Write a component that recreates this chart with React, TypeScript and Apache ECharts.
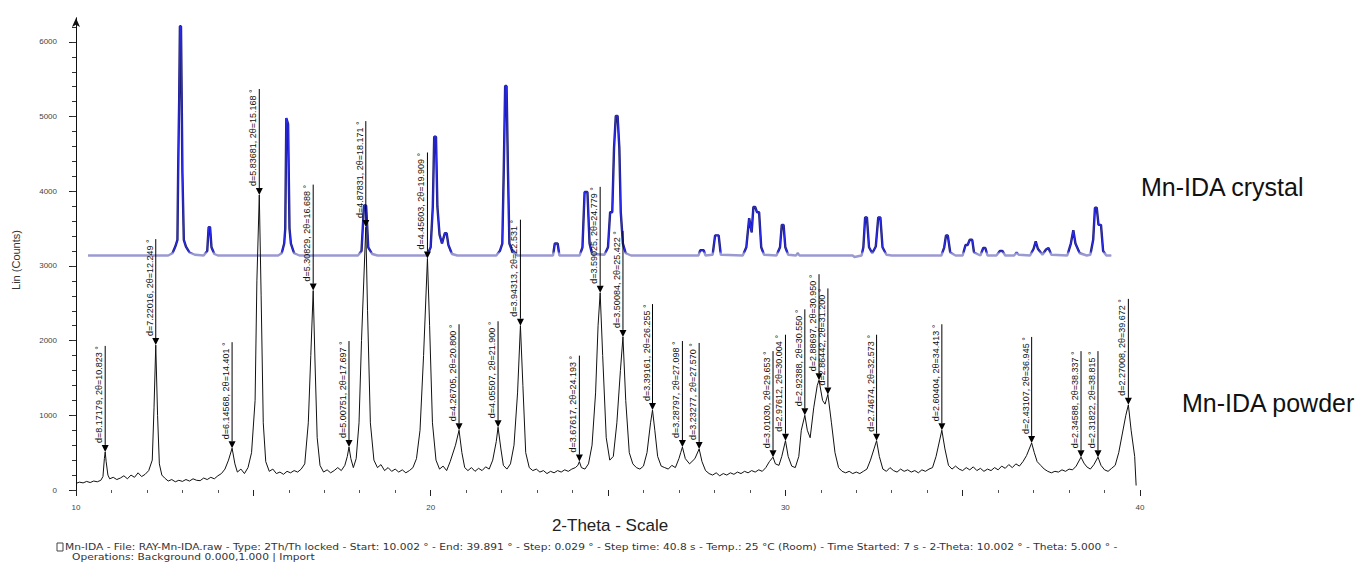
import React, { useEffect, useRef } from 'react';
import * as echarts from 'echarts';

const yTickValues = [0, 1000, 2000, 3000, 4000, 5000, 6000];
const xLabelValues = [10, 20, 30, 40];
const yAxisTitle = 'Lin (Counts)';
const xAxisTitle = '2-Theta - Scale';
const seriesNames = ['Mn-IDA crystal', 'Mn-IDA powder'];
const footerLines = [
  'Mn-IDA - File: RAY-Mn-IDA.raw - Type: 2Th/Th locked - Start: 10.002 ° - End: 39.891 ° - Step: 0.029 ° - Step time: 40.8 s - Temp.: 25 °C (Room) - Time Started: 7 s - 2-Theta: 10.002 ° - Theta: 5.000 ° -',
  'Operations: Background 0.000,1.000 | Import',
];

// powder pattern [2θ, counts]
const powder: [number, number][] = [
  [10.0, 90], [10.1, 105], [10.2, 95], [10.3, 115], [10.4, 100], [10.5, 120], [10.6, 110], [10.7, 130],
  [10.76, 180], [10.8, 420], [10.823, 510], [10.85, 380], [10.9, 200], [10.95, 150],
  [11.05, 170], [11.15, 140], [11.25, 160], [11.35, 190], [11.45, 150], [11.55, 200], [11.65, 170], [11.75, 230], [11.85, 180], [11.95, 210], [12.05, 260],
  [12.15, 400], [12.2, 1100], [12.249, 1940], [12.3, 1000], [12.35, 350], [12.42, 200],
  [12.5, 160], [12.6, 120], [12.7, 140], [12.8, 110], [12.9, 130], [13.0, 115], [13.1, 140], [13.2, 120], [13.3, 150], [13.4, 130], [13.5, 125], [13.6, 160], [13.7, 140], [13.8, 170], [13.9, 150], [14.0, 190], [14.1, 220], [14.2, 280],
  [14.3, 400], [14.401, 560], [14.48, 350], [14.55, 240], [14.65, 280], [14.75, 220], [14.85, 300], [14.95, 500],
  [15.05, 1200], [15.1, 2800], [15.168, 3950], [15.22, 2600], [15.28, 900], [15.35, 380], [15.45, 250], [15.55, 280], [15.65, 220], [15.75, 240], [15.85, 210], [15.95, 250], [16.05, 230], [16.15, 260], [16.25, 240], [16.35, 280], [16.45, 350], [16.55, 900],
  [16.62, 1800], [16.688, 2670], [16.74, 1700], [16.8, 700], [16.88, 330], [16.98, 240], [17.08, 270], [17.18, 230], [17.28, 260], [17.38, 300], [17.48, 260], [17.58, 330],
  [17.65, 450], [17.697, 575], [17.75, 420], [17.82, 300], [17.9, 420], [17.98, 900],
  [18.05, 2000], [18.171, 3520], [18.22, 2400], [18.3, 900], [18.4, 400], [18.5, 300], [18.6, 340], [18.7, 260], [18.8, 300], [18.9, 250], [19.0, 280], [19.1, 240], [19.2, 270], [19.3, 230], [19.4, 260], [19.5, 300], [19.6, 420], [19.7, 800],
  [19.8, 1800], [19.909, 3100], [19.97, 2200], [20.05, 900], [20.15, 400], [20.25, 280], [20.35, 320], [20.45, 260], [20.55, 380],
  [20.7, 600], [20.8, 800], [20.88, 500], [20.96, 300], [21.05, 260], [21.15, 300], [21.25, 250], [21.35, 290], [21.45, 260], [21.55, 310], [21.65, 280], [21.75, 400],
  [21.85, 650], [21.9, 840], [21.98, 550], [22.05, 330], [22.15, 280], [22.25, 350], [22.35, 600],
  [22.45, 1300], [22.531, 2200], [22.6, 1400], [22.68, 500], [22.78, 300], [22.88, 260], [22.98, 280], [23.08, 240], [23.18, 260], [23.28, 220], [23.38, 250], [23.48, 230], [23.58, 260], [23.68, 240], [23.78, 270], [23.88, 250], [23.98, 280], [24.08, 300],
  [24.15, 330], [24.193, 380], [24.25, 300], [24.35, 280], [24.45, 350], [24.55, 600],
  [24.65, 1300], [24.72, 2200], [24.779, 2640], [24.85, 1800], [24.95, 700], [25.05, 400], [25.15, 450], [25.25, 900],
  [25.35, 1600], [25.422, 2050], [25.5, 1200], [25.6, 500], [25.7, 350], [25.8, 300], [25.9, 280], [26.0, 320], [26.1, 500],
  [26.2, 900], [26.255, 1070], [26.32, 800], [26.4, 450], [26.5, 320], [26.6, 300], [26.7, 280], [26.8, 330], [26.9, 300], [27.0, 420],
  [27.05, 500], [27.098, 575], [27.18, 420], [27.3, 350], [27.45, 420], [27.57, 550], [27.65, 380], [27.75, 260], [27.85, 220], [27.95, 200], [28.05, 230], [28.15, 190], [28.25, 220], [28.35, 200], [28.45, 230], [28.55, 210], [28.65, 240], [28.75, 220], [28.85, 250], [28.95, 230], [29.05, 260], [29.15, 240], [29.25, 270], [29.35, 250], [29.45, 300], [29.55, 380],
  [29.653, 440], [29.72, 350], [29.82, 330], [29.9, 450],
  [30.004, 660], [30.08, 450], [30.18, 320], [30.28, 300], [30.38, 450], [30.45, 800],
  [30.55, 1000], [30.62, 800], [30.7, 700], [30.8, 1100], [30.9, 1400], [30.95, 1470], [31.05, 1200], [31.12, 1150], [31.2, 1280], [31.3, 900], [31.4, 500], [31.5, 300], [31.6, 250], [31.7, 230], [31.8, 250], [31.9, 220], [32.0, 240], [32.1, 220], [32.2, 250], [32.3, 280], [32.4, 400],
  [32.5, 550], [32.573, 660], [32.65, 450], [32.75, 280], [32.85, 250], [32.95, 300], [33.05, 260], [33.15, 240], [33.25, 280], [33.35, 250], [33.45, 270], [33.55, 240], [33.65, 260], [33.75, 230], [33.85, 270], [33.95, 250], [34.05, 280], [34.15, 300], [34.25, 450],
  [34.413, 800], [34.5, 550], [34.6, 330], [34.7, 280], [34.8, 320], [34.9, 280], [35.0, 260], [35.1, 300], [35.2, 270], [35.3, 310], [35.4, 260], [35.5, 290], [35.6, 250], [35.7, 280], [35.8, 260], [35.9, 300], [36.0, 270], [36.1, 320], [36.2, 290], [36.3, 340], [36.4, 300], [36.5, 350], [36.6, 320], [36.7, 380], [36.8, 460],
  [36.945, 630], [37.02, 500], [37.1, 380], [37.2, 330], [37.3, 280], [37.4, 250], [37.5, 230], [37.6, 250], [37.7, 240], [37.8, 270], [37.9, 250], [38.0, 280], [38.1, 270], [38.2, 320],
  [38.337, 440], [38.42, 360], [38.5, 310], [38.6, 280], [38.7, 340], [38.815, 440], [38.9, 330], [39.0, 270], [39.1, 250], [39.2, 290], [39.3, 330], [39.4, 500], [39.5, 750], [39.6, 1000],
  [39.672, 1140], [39.75, 800], [39.85, 450], [39.891, 60],
];

// calculated crystal pattern [2θ, counts]
const crystal: [number, number][] = [
  [10.34, 3140], [12.6, 3140], [12.72, 3170], [12.8, 3260], [12.86, 3350], [12.88, 4260], [12.91, 5260], [12.93, 6210], [12.96, 6210], [12.98, 5260], [13.0, 4260], [13.04, 3350], [13.1, 3260], [13.2, 3180], [13.35, 3150], [13.6, 3140], [13.7, 3200], [13.74, 3520], [13.78, 3520], [13.82, 3250], [13.9, 3160], [14.0, 3140],
  [15.7, 3140], [15.8, 3170], [15.87, 3300], [15.9, 3500], [15.93, 4980], [15.98, 4900], [16.02, 3500], [16.06, 3300], [16.15, 3170], [16.3, 3140],
  [17.95, 3140], [18.05, 3200], [18.12, 3810], [18.18, 3810], [18.24, 3250], [18.35, 3160], [18.5, 3140],
  [19.9, 3140], [20.0, 3250], [20.06, 3790], [20.1, 4730], [20.15, 4730], [20.19, 3790], [20.25, 3420], [20.32, 3300], [20.4, 3440], [20.45, 3440], [20.5, 3280], [20.6, 3160], [20.75, 3140],
  [21.85, 3140], [21.95, 3200], [22.02, 3300], [22.06, 4260], [22.1, 5410], [22.14, 5410], [22.18, 4260], [22.22, 3300], [22.3, 3200], [22.45, 3140],
  [23.45, 3140], [23.5, 3300], [23.58, 3300], [23.63, 3140],
  [24.2, 3140], [24.28, 3250], [24.34, 3990], [24.42, 3990], [24.48, 3300], [24.55, 3160],
  [24.9, 3150], [25.0, 3250], [25.06, 3720], [25.12, 3720], [25.17, 4580], [25.22, 5010], [25.27, 5010], [25.32, 4580], [25.36, 3720], [25.42, 3300], [25.5, 3170], [25.65, 3140],
  [27.55, 3140], [27.6, 3210], [27.7, 3210], [27.75, 3140],
  [27.95, 3150], [28.02, 3410], [28.12, 3410], [28.18, 3150],
  [28.8, 3140], [28.9, 3250], [28.98, 3640], [29.05, 3450], [29.1, 3790], [29.15, 3790], [29.2, 3720], [29.26, 3720], [29.32, 3250], [29.4, 3150],
  [29.75, 3140], [29.85, 3250], [29.9, 3550], [29.95, 3550], [30.0, 3250], [30.08, 3150],
  [30.3, 3140], [30.35, 3170], [30.4, 3140],
  [31.9, 3140], [31.95, 3120], [32.05, 3130], [32.15, 3140], [32.2, 3250], [32.25, 3650], [32.3, 3650], [32.36, 3250], [32.45, 3170], [32.55, 3260], [32.62, 3650], [32.68, 3650], [32.74, 3250], [32.85, 3150], [33.0, 3140],
  [34.4, 3140], [34.48, 3250], [34.53, 3410], [34.58, 3410], [34.65, 3180], [34.8, 3140],
  [35.0, 3140], [35.08, 3280], [35.14, 3280], [35.2, 3350], [35.27, 3350], [35.32, 3180], [35.5, 3140], [35.58, 3240], [35.64, 3240], [35.7, 3140],
  [35.95, 3140], [36.05, 3200], [36.12, 3200], [36.2, 3140], [36.45, 3140], [36.52, 3180], [36.58, 3150],
  [36.9, 3140], [37.0, 3230], [37.06, 3330], [37.12, 3230], [37.25, 3150], [37.35, 3220], [37.42, 3240], [37.5, 3150],
  [37.95, 3140], [38.05, 3300], [38.12, 3480], [38.18, 3300], [38.3, 3170], [38.5, 3140], [38.6, 3150], [38.68, 3350], [38.73, 3780], [38.78, 3780], [38.83, 3550], [38.9, 3550], [38.96, 3200], [39.05, 3140], [39.19, 3140],
];

// marked peaks of the powder pattern
const peakTheta = [10.823, 12.249, 14.401, 15.168, 16.688, 17.697, 18.171, 19.909, 20.8, 21.9, 22.531, 24.193, 24.779, 25.422, 26.255, 27.098, 27.57, 29.653, 30.004, 30.55, 30.95, 31.2, 32.573, 34.413, 36.945, 38.337, 38.815, 39.672];
const peakCounts = [510, 1940, 560, 3950, 2670, 575, 3520, 3100, 800, 840, 2200, 380, 2640, 2050, 1070, 575, 550, 440, 660, 1000, 1470, 1280, 660, 800, 630, 440, 440, 1140];
const peakLabels = [
  'd=8.17179, 2θ=10.823 °', 'd=7.22016, 2θ=12.249 °', 'd=6.14568, 2θ=14.401 °', 'd=5.83681, 2θ=15.168 °',
  'd=5.30829, 2θ=16.688 °', 'd=5.00751, 2θ=17.697 °', 'd=4.87831, 2θ=18.171 °', 'd=4.45603, 2θ=19.909 °',
  'd=4.26705, 2θ=20.800 °', 'd=4.05507, 2θ=21.900 °', 'd=3.94313, 2θ=22.531 °', 'd=3.67617, 2θ=24.193 °',
  'd=3.59025, 2θ=24.779 °', 'd=3.50084, 2θ=25.422 °', 'd=3.39161, 2θ=26.255 °', 'd=3.28797, 2θ=27.098 °',
  'd=3.23277, 2θ=27.570 °', 'd=3.01030, 2θ=29.653 °', 'd=2.97612, 2θ=30.004 °', 'd=2.92388, 2θ=30.550 °',
  'd=2.88697, 2θ=30.950 °', 'd=2.86442, 2θ=31.200 °', 'd=2.74674, 2θ=32.573 °', 'd=2.60404, 2θ=34.413 °',
  'd=2.43107, 2θ=36.945 °', 'd=2.34588, 2θ=38.337 °', 'd=2.31822, 2θ=38.815 °', 'd=2.27008, 2θ=39.672 °',
];

const yMinorTicks: number[] = [];
for (let v = 0; v <= 6200; v += 200) yMinorTicks.push(v);

const crystalGradient = (top: string) => ({
  type: 'linear', x: 0, y: 0, x2: 0, y2: 1,
  colorStops: [
    { offset: 0, color: top },
    { offset: 0.975, color: top },
    { offset: 0.986, color: '#9a9ad2' },
    { offset: 1, color: '#9a9ad2' },
  ],
});

export default function App() {
  const ref = useRef<HTMLDivElement>(null);
  useEffect(() => {
    if (!ref.current) return;
    const chart = echarts.init(ref.current, null, { renderer: 'svg' });
    const font = 'Liberation Sans, Arial, sans-serif';
    chart.setOption({
      animation: false,
      backgroundColor: '#ffffff',
      grid: { left: 76, right: 223, top: 18, bottom: 75, containLabel: false },
      xAxis: {
        type: 'value', min: 10, max: 40, interval: 5,
        axisLine: { show: false },
        axisTick: { show: true, length: 6, lineStyle: { color: '#222' } },
        minorTick: { show: true, splitNumber: 5, length: 3, lineStyle: { color: '#555' } },
        splitLine: { show: false },
        axisLabel: {
          fontSize: 8, color: '#444', margin: 13, fontFamily: font,
          formatter: (v: number) => (xLabelValues.indexOf(v) >= 0 ? String(v) : ''),
        },
      },
      yAxis: [
        {
          type: 'value', min: 0, max: 6320, position: 'left',
          axisLine: { show: true, lineStyle: { color: '#111', width: 1 }, symbol: ['none', 'arrow'], symbolSize: [6, 9] },
          axisTick: { show: true, length: 7, customValues: yTickValues, lineStyle: { color: '#222' } },
          axisLabel: { fontSize: 8, color: '#444', margin: 19, fontFamily: font, customValues: yTickValues, formatter: (v: number) => String(v) },
          splitLine: { show: false },
        },
        {
          type: 'value', min: 0, max: 6320, position: 'left', offset: 0,
          axisLine: { show: true, lineStyle: { color: '#111', width: 1 } },
          axisTick: { show: true, length: 4, customValues: yMinorTicks, lineStyle: { color: '#333', width: 1 } },
          axisLabel: { show: false },
          splitLine: { show: false },
        },
      ],
      series: [
        {
          name: seriesNames[1], type: 'line', data: powder, showSymbol: false, symbol: 'none',
          lineStyle: { color: '#111', width: 1 }, z: 3,
        },
        {
          name: seriesNames[0] + ' outline', type: 'line', data: crystal, showSymbol: false, symbol: 'none', clip: false,
          lineStyle: { color: crystalGradient('#1d1d78'), width: 2.4, join: 'bevel' }, z: 2,
        },
        {
          name: seriesNames[0], type: 'line', data: crystal, showSymbol: false, symbol: 'none', clip: false,
          lineStyle: { color: crystalGradient('#2b2bf0'), width: 1.1, join: 'bevel' }, z: 2,
        },
        {
          name: 'peak marks', type: 'custom', coordinateSystem: 'cartesian2d', clip: false, silent: true, z: 5,
          data: peakTheta.map((t, i) => [t, peakCounts[i]]),
          encode: { x: 0, y: 1 },
          renderItem: (params: any, api: any) => {
            const p = api.coord([api.value(0), api.value(1)]);
            const x = p[0];
            const y = p[1];
            return {
              type: 'group',
              children: [
                { type: 'polygon', shape: { points: [[x - 3.5, y - 7], [x + 3.5, y - 7], [x, y]] }, style: { fill: '#000' } },
                { type: 'line', shape: { x1: x, y1: y - 7, x2: x, y2: y - 106 }, style: { stroke: '#000', lineWidth: 1 } },
                {
                  type: 'text', x: x - 1.5, y: y - 9, rotation: Math.PI / 2,
                  style: { text: peakLabels[params.dataIndex], fontSize: 9, fontFamily: font, fill: '#111', align: 'left', verticalAlign: 'bottom' },
                },
              ],
            };
          },
        },
      ],
      graphic: [
        { type: 'text', x: 16, y: 260, rotation: Math.PI / 2, style: { text: yAxisTitle, fontSize: 11, fontFamily: font, fill: '#333', align: 'center', verticalAlign: 'middle' } },
        { type: 'text', x: 610, y: 525, style: { text: xAxisTitle, fontSize: 17, fontFamily: font, fill: '#222', align: 'center', verticalAlign: 'middle' } },
        { type: 'rect', shape: { x: 57, y: 543, width: 6, height: 8 }, style: { fill: 'none', stroke: '#444', lineWidth: 1 } },
        { type: 'text', x: 65, y: 547, scaleX: 1.185, style: { text: footerLines[0], fontSize: 9, fontFamily: 'DejaVu Sans, sans-serif', fill: '#333', align: 'left', verticalAlign: 'middle' } },
        { type: 'text', x: 72, y: 557, scaleX: 1.185, style: { text: footerLines[1], fontSize: 9, fontFamily: 'DejaVu Sans, sans-serif', fill: '#333', align: 'left', verticalAlign: 'middle' } },
        { type: 'text', x: 1141, y: 187, style: { text: seriesNames[0], fontSize: 25, fontFamily: font, fill: '#111', align: 'left', verticalAlign: 'middle' } },
        { type: 'text', x: 1182, y: 403, style: { text: seriesNames[1], fontSize: 25, fontFamily: font, fill: '#111', align: 'left', verticalAlign: 'middle' } },
      ],
    });
    return () => chart.dispose();
  }, []);
  return <div ref={ref} style={{ position: 'fixed', left: 0, top: 0, width: 1363, height: 565, background: '#fff' }} />;
}
